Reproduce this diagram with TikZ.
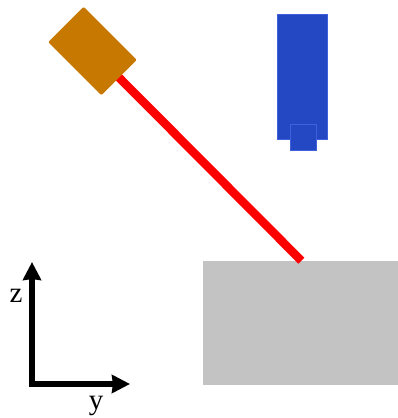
\documentclass[tikz,border=0pt]{standalone}
\usepackage{fontspec}
\setmainfont{Liberation Serif}
\usepackage{xcolor}
\usetikzlibrary{positioning,arrows.meta}
\definecolor{camcol}{HTML}{C67800}
\definecolor{headcol}{HTML}{2448C4}
\definecolor{headedge}{HTML}{3F62DA}
\definecolor{samplecol}{HTML}{C3C3C3}
\begin{document}
\begin{tikzpicture}[
  x=1pt, y=1pt,
  block/.style={inner sep=0pt, outer sep=0pt},
  cam/.style={block, fill=camcol, rounded corners=1pt, minimum width=75pt, minimum height=50pt, rotate=-45},
  head/.style={block, fill=headcol, draw=headedge, line width=0.5pt},
  sample/.style={block, fill=samplecol, minimum width=195.3pt, minimum height=124.3pt},
  beam/.style={red, line width=8.5pt},
  axis/.style={-{Stealth[length=18pt, width=18pt, inset=1pt]}, line width=5.5pt},
  lab/.style={font=\fontsize{29}{29}\selectfont, inner sep=0pt}]
\useasboundingbox (0,0) rectangle (398,418);
\node[sample] (block) at (300.35,95.15) {};
\node[cam] (laser) at (92.5,367) {};
\draw[beam] (laser.east) -- ([xshift=1pt]block.north);
\node[head, minimum width=50pt, minimum height=124.3pt] (tube) at (302.6,341.2) {};
\node[head, minimum width=26pt, minimum height=26.7pt] (tip) at (303.7,280.6) {};
\coordinate (origin) at (32,34);
\coordinate (zend) at (32,156);
\coordinate (yend) at (130,34);
\draw[axis] ([yshift=-2.75pt]origin) -- (zend);
\draw[axis] (origin) -- (yend);
\node[lab] (zlab) at (16,122) {z};
\node[lab] (ylab) at (96,12) {y};
\end{tikzpicture}
\end{document}
